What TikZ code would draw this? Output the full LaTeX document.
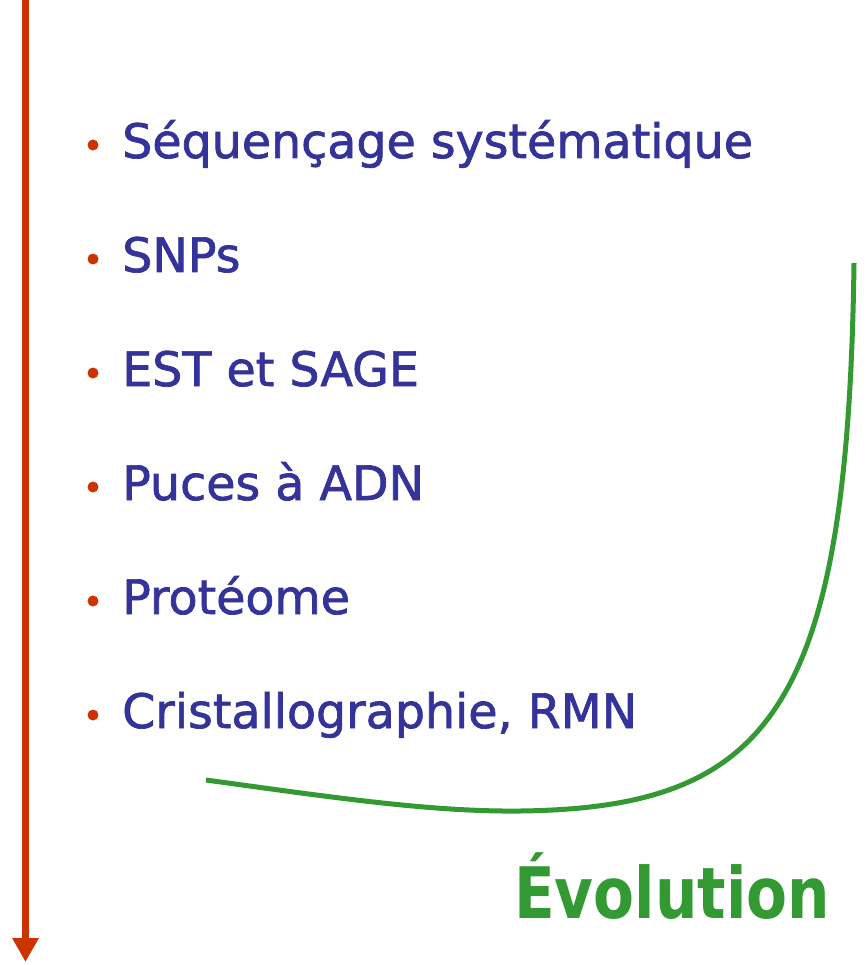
\documentclass[tikz,border=0pt]{standalone}
\usepackage{fontspec}
\setmainfont{DejaVu Sans}
\newfontfamily\itemfont[FakeBold=1.5]{DejaVu Sans}
\usetikzlibrary{arrows.meta}
\definecolor{itemblue}{HTML}{333399}
\definecolor{arrowred}{HTML}{CC3300}
\definecolor{evogreen}{HTML}{339933}
\begin{document}
\begin{tikzpicture}[x=1pt,y=-1pt,
  item/.style={anchor=base west, inner sep=0pt, text=itemblue, font=\itemfont\fontsize{47.5}{57}\selectfont},
  bul/.style={circle, fill=arrowred, inner sep=0pt, minimum size=11pt},
  evo/.style={anchor=base west, inner sep=0pt, text=evogreen, xscale=0.84, font=\fontsize{71}{84}\selectfont\bfseries}]
\useasboundingbox (0,0) rectangle (866,965);
\fill[white] (0,0) rectangle (866,965);
% time arrow
\coordinate (atop) at (25.5,-5);
\coordinate (abot) at (25.5,962);
\draw[arrowred, line width=7pt, -{Triangle[width=25pt,length=24pt]}] (atop) -- (abot);
% items
\foreach \t [count=\i from 0] in {Séquençage systématique, SNPs, EST et SAGE, Puces à ADN, Protéome, {Cristallographie, RMN}} {
  \node[bul] (b\i) at (93,{145+114*\i}) {};
  \node[item] (t\i) at (122,{158+114*\i}) {\t};
}
% evolution curve
\coordinate (cstart) at (206,780);
\coordinate (cmid) at (520,811);
\coordinate (cend) at (854,263);
\draw[evogreen, line width=5pt] (cstart) .. controls (330,797) and (430,812) .. (cmid)
  .. controls (770,808) and (848,710) .. (cend);
\node[evo] (evo) at (514,918) {Évolution};
\end{tikzpicture}
\end{document}
